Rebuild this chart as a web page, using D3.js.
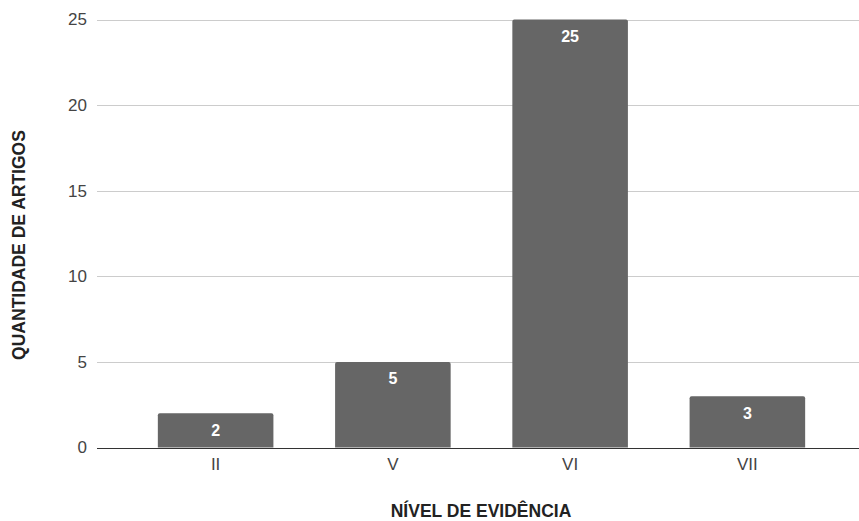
<!DOCTYPE html>
<html>
<head>
<meta charset="utf-8">
<script src="https://cdn.jsdelivr.net/npm/d3@7"></script>
<style>
  html, body { margin: 0; padding: 0; background: #fff; }
  svg { display: block; font-family: "Liberation Sans", Arial, sans-serif; }
</style>
</head>
<body>
<svg id="chart" width="859" height="521"></svg>
<script>
// Articles per evidence level
const categories = ["II", "V", "VI", "VII"];
const values = [2, 5, 25, 3];
const yTicks = [0, 5, 10, 15, 20, 25];

const svg = d3.select("#chart");
const plot = { left: 97, right: 859, top: 19.5, bottom: 447.5 };

const x = d3.scaleBand()
  .domain(categories)
  .range([127, 836])
  .paddingInner(0.348)
  .paddingOuter(0.174);

const y = d3.scaleLinear()
  .domain([0, 25])
  .range([plot.bottom, plot.top]);

// horizontal gridlines
svg.append("g")
  .selectAll("line")
  .data(yTicks.filter(d => d !== 0))
  .join("line")
  .attr("x1", plot.left)
  .attr("x2", plot.right)
  .attr("y1", d => Math.round(y(d)) + 0.5)
  .attr("y2", d => Math.round(y(d)) + 0.5)
  .attr("stroke", "#cccccc")
  .attr("stroke-width", 1);

// y tick labels
svg.append("g")
  .selectAll("text")
  .data(yTicks)
  .join("text")
  .attr("x", 87)
  .attr("y", d => y(d))
  .attr("dy", "0.35em")
  .attr("text-anchor", "end")
  .attr("font-size", 17)
  .attr("fill", "#444")
  .text(d => d);

// bars with slightly rounded tops
const r = 2;
svg.append("g")
  .selectAll("path")
  .data(categories.map((c, i) => ({ c, v: values[i] })))
  .join("path")
  .attr("fill", "#666666")
  .attr("d", d => {
    const x0 = x(d.c), x1 = x0 + x.bandwidth();
    const y0 = y(d.v), y1 = y(0);
    return `M${x0},${y1}V${y0 + r}Q${x0},${y0} ${x0 + r},${y0}H${x1 - r}Q${x1},${y0} ${x1},${y0 + r}V${y1}Z`;
  });

// value labels inside bars
svg.append("g")
  .selectAll("text")
  .data(categories.map((c, i) => ({ c, v: values[i] })))
  .join("text")
  .attr("x", d => x(d.c) + x.bandwidth() / 2)
  .attr("y", d => y(d.v) + 16.8)
  .attr("dy", "0.35em")
  .attr("text-anchor", "middle")
  .attr("font-size", 16)
  .attr("font-weight", "bold")
  .attr("fill", "#ffffff")
  .text(d => d.v);

// baseline
svg.append("line")
  .attr("x1", plot.left)
  .attr("x2", plot.right)
  .attr("y1", Math.round(y(0)) + 0.5)
  .attr("y2", Math.round(y(0)) + 0.5)
  .attr("stroke", "#333333")
  .attr("stroke-width", 1);

// x category labels
svg.append("g")
  .selectAll("text")
  .data(categories)
  .join("text")
  .attr("x", d => x(d) + x.bandwidth() / 2)
  .attr("y", 464)
  .attr("dy", "0.35em")
  .attr("text-anchor", "middle")
  .attr("font-size", 17)
  .attr("fill", "#444")
  .text(d => d);

// axis titles
svg.append("text")
  .attr("x", 481)
  .attr("y", 511)
  .attr("dy", "0.35em")
  .attr("text-anchor", "middle")
  .attr("font-size", 17.5)
  .attr("font-weight", "bold")
  .attr("fill", "#222")
  .text("NÍVEL DE EVIDÊNCIA");

svg.append("text")
  .attr("transform", "translate(19,245) rotate(-90)")
  .attr("dy", "0.35em")
  .attr("text-anchor", "middle")
  .attr("font-size", 17.5)
  .attr("font-weight", "bold")
  .attr("fill", "#222")
  .text("QUANTIDADE DE ARTIGOS");
</script>
</body>
</html>
